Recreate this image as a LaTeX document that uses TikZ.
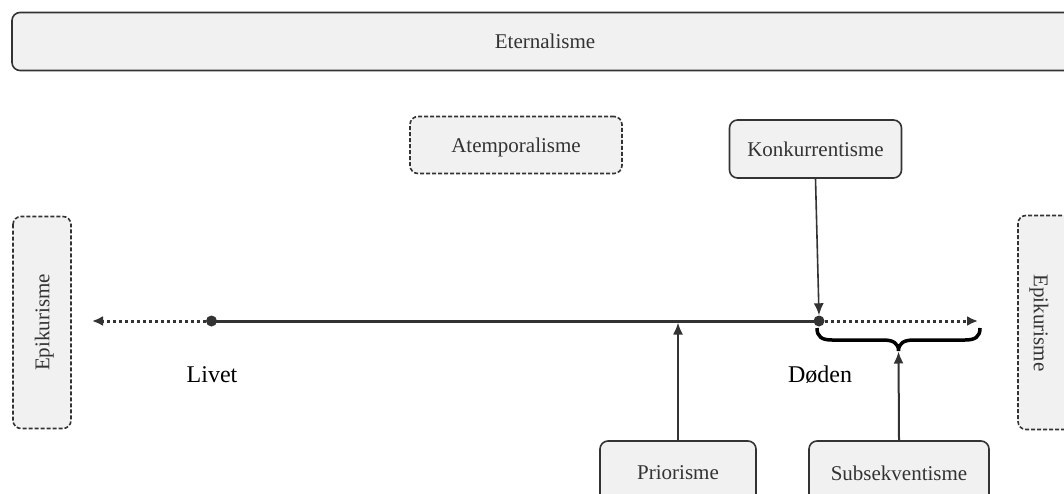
\documentclass[tikz,border=0pt]{standalone}
\usepackage{fontspec}
\setmainfont{Liberation Serif}
\usetikzlibrary{arrows.meta}
\definecolor{boxfill}{HTML}{F1F1F1}
\definecolor{boxline}{HTML}{333333}
\definecolor{txt}{HTML}{333333}
\tikzset{
 box/.style={draw=boxline, fill=boxfill, line width=1.6pt, rounded corners=8pt, text=txt, font=\fontsize{21}{25}\selectfont, inner sep=0pt, text depth=0pt},
 dashedbox/.style={box, dash pattern=on 4pt off 2pt},
 boxtext/.style={text=txt, font=\fontsize{21}{25}\selectfont, inner sep=0pt},
 lbl/.style={font=\fontsize{24}{28}\selectfont, text=black, inner sep=0pt},
 dot/.style={circle, fill=boxline, inner sep=0pt, minimum size=11pt},
 tl/.style={draw=boxline, line width=3pt},
 tldot/.style={draw=boxline, line width=3pt, dash pattern=on 3pt off 3pt, -{Latex[length=11pt,width=10pt]}},
 arr/.style={draw=boxline, line width=2pt, -{Latex[length=12pt,width=10pt]}},
 bracestyle/.style={draw=black, line width=3.5pt},
}
\begin{document}
\begin{tikzpicture}[x=1pt,y=-1pt]
\useasboundingbox (0,0) rectangle (1064,494);
\clip (0,0) rectangle (1064,494);
% boxes
\node[box, minimum width=1066pt, minimum height=58pt] (etern) at (545,41.5) {Eternalisme};
\node[dashedbox, minimum width=212pt, minimum height=57pt] (atemp) at (516,145) {Atemporalisme};
\node[box, minimum width=172pt, minimum height=58pt] (konk) at (815.5,149) {Konkurrentisme};
\node[dashedbox, rotate=90, minimum width=212pt, minimum height=58pt] (epiL) at (42,322.5) {Epikurisme};
\node[dashedbox, minimum width=58pt, minimum height=214pt] (epiR) at (1047,322.5) {};
\node[boxtext, rotate=-90] (epiRtext) at (1039,323) {Epikurisme};
\node[box, minimum width=156pt, minimum height=64pt] (prio) at (678,473) {Priorisme};
\node[box, minimum width=180pt, minimum height=64pt] (subs) at (899,473) {Subsekventisme};
% labels
\node[lbl] (livet) at (212,375) {Livet};
\node[lbl] (doden) at (820,375) {Døden};
% timeline
\coordinate (lpos) at (211.5,321);
\coordinate (dpos) at (819,321);
\coordinate (lend) at (92,321);
\coordinate (rend) at (978,321);
\coordinate (prioPt) at (678,322.5);
\draw[tl] (lpos) -- (dpos);
\draw[tldot] (lpos) -- (lend);
\draw[tldot] (dpos) -- (rend);
\node[dot] (ldot) at (lpos) {};
\node[dot] (ddot) at (dpos) {};
% brace
\draw[bracestyle] (817,328) .. controls (817,337) and (822,340) .. (832,340) -- (883,340) .. controls (893,340) and (898.5,343) .. (898.5,351) .. controls (898.5,343) and (904,340) .. (914,340) -- (965,340) .. controls (975,340) and (980,337) .. (980,328);
\coordinate (braceTip) at (898.5,351.5);
% arrows
\draw[arr] (prio.north) -- (prioPt);
\draw[arr, line width=1.6pt] (konk.south) -- (ddot.north);
\draw[arr] (subs.north) -- (braceTip);
\end{tikzpicture}
\end{document}
